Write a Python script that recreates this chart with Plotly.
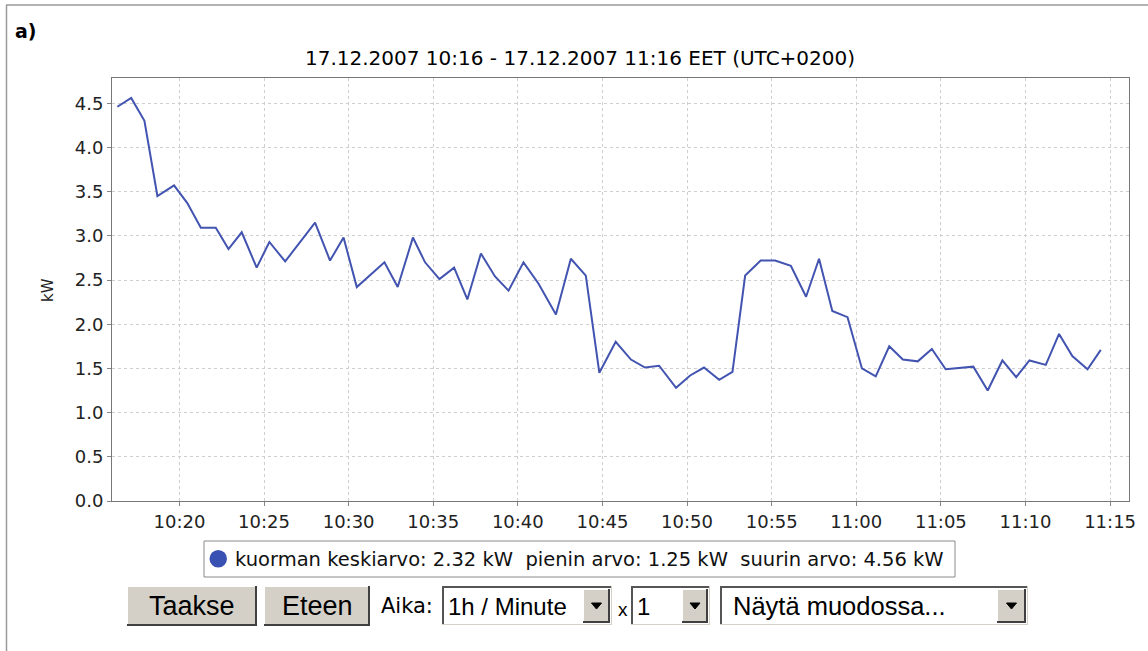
import plotly.graph_objects as go

# ---------------- data ----------------
times = ["10:16:20","10:17:09","10:17:56","10:18:42","10:19:41","10:20:28","10:21:16","10:22:09","10:22:54","10:23:41",
         "10:24:34","10:25:19","10:26:15","10:27:08","10:28:01","10:28:54","10:29:42","10:30:29","10:31:17","10:32:07",
         "10:32:54","10:33:48","10:34:31","10:35:22","10:36:14","10:37:01","10:37:49","10:38:39","10:39:27","10:40:20",
         "10:41:13","10:42:15","10:43:08","10:44:01","10:44:49","10:45:47","10:46:41","10:47:31","10:48:21","10:49:21",
         "10:50:11","10:51:00","10:51:54","10:52:41","10:53:26","10:54:21","10:55:12","10:56:08","10:57:02","10:57:48",
         "10:58:35","10:59:29","11:00:20","11:01:09","11:01:57","11:02:45","11:03:38","11:04:28","11:05:17","11:06:08",
         "11:06:55","11:07:46","11:08:38","11:09:27","11:10:14","11:11:12","11:11:59","11:12:46","11:13:40","11:14:27"]
load_kw = [4.46, 4.56, 4.30, 3.45, 3.57, 3.37, 3.09, 3.09, 2.85, 3.04,
           2.64, 2.93, 2.71, 2.93, 3.15, 2.72, 2.98, 2.42, 2.56, 2.70,
           2.42, 2.98, 2.70, 2.51, 2.64, 2.28, 2.80, 2.54, 2.38, 2.70,
           2.46, 2.11, 2.74, 2.55, 1.45, 1.80, 1.60, 1.51, 1.53, 1.28,
           1.42, 1.51, 1.37, 1.46, 2.55, 2.72, 2.72, 2.66, 2.31, 2.74,
           2.15, 2.08, 1.50, 1.41, 1.75, 1.60, 1.58, 1.72, 1.49, 1.51,
           1.52, 1.25, 1.59, 1.40, 1.59, 1.54, 1.89, 1.64, 1.49, 1.71]
date = "2007-12-17"
title_text = "17.12.2007 10:16 - 17.12.2007 11:16 EET (UTC+0200)"
legend_text = "kuorman keskiarvo: 2.32 kW  pienin arvo: 1.25 kW  suurin arvo: 4.56 kW"
y_title = "kW"
panel_label = "a)"

# ---------------- geometry ----------------
W, H = 1148, 651
L, R, T, B = 112, 1129, 78, 501

def fx(x):
    return (x - L) / (R - L)

def fy(y):
    return (B - y) / (B - T)

FONT = "DejaVu Sans"
BTN_FONT = "Liberation Sans"
LINE_BLUE = "#4254b0"

fig = go.Figure()
fig.add_trace(go.Scatter(
    x=[f"{date} {t}" for t in times], y=load_kw, mode="lines",
    line=dict(color=LINE_BLUE, width=2), showlegend=False, hoverinfo="x+y"))

grid = dict(showgrid=True, gridcolor="#cfcfcf", gridwidth=1, griddash="3px,3px")
fig.update_xaxes(
    range=[f"{date} 10:16:01", f"{date} 11:16:07"], type="date",
    tickformat="%H:%M", dtick=5 * 60 * 1000, tick0=f"{date} 10:20:00",
    ticks="outside", ticklen=4, tickcolor="#888888",
    showline=True, linecolor="#777777", linewidth=1, mirror=True,
    tickfont=dict(family=FONT, size=18, color="#222222"), zeroline=False, **grid)
fig.update_yaxes(
    range=[0, 4.785], dtick=0.5, tick0=0, tickformat=".1f",
    ticks="outside", ticklen=4, tickcolor="#888888",
    showline=True, linecolor="#777777", linewidth=1, mirror=True,
    tickfont=dict(family=FONT, size=18, color="#222222"), zeroline=False, **grid)

shapes = []
annos = []

def rect(x0, y0, x1, y1, fill, line_color=None, lw=0):
    shapes.append(dict(type="rect", xref="paper", yref="paper",
                       x0=fx(x0), x1=fx(x1), y0=fy(y1), y1=fy(y0),
                       fillcolor=fill, line=dict(color=line_color or fill, width=lw), layer="above"))

def line(x0, y0, x1, y1, color, w=1):
    shapes.append(dict(type="line", xref="paper", yref="paper",
                       x0=fx(x0), x1=fx(x1), y0=fy(y0), y1=fy(y1),
                       line=dict(color=color, width=w), layer="above"))

def text(x, y, s, size, family=FONT, xanchor="center", color="#000000", bold=False):
    annos.append(dict(xref="paper", yref="paper", x=fx(x), y=fy(y), text=f"<b>{s}</b>" if bold else s,
                      showarrow=False, xanchor=xanchor, yanchor="middle",
                      font=dict(family=family, size=size, color=color)))

def tri(cx, cy):
    pts = [(cx - 5, cy - 3), (cx + 5, cy - 3), (cx, cy + 3)]
    path = "M " + " L ".join(f"{fx(px)},{fy(py)}" for px, py in pts) + " Z"
    shapes.append(dict(type="path", xref="paper", yref="paper", path=path,
                       fillcolor="#000000", line=dict(color="#000000", width=1), layer="above"))

# outer frame (top & left)
line(6, 5, 1148, 5, "#9a9a9a", 1.5)
line(6.5, 5, 6.5, 651, "#9a9a9a", 1.5)

# panel label, title, y title
text(13, 31, panel_label, 19, family=FONT, xanchor="left", bold=True)
text(580, 58, title_text, 20)
annos.append(dict(xref="paper", yref="paper", x=fx(48), y=fy(290), text=y_title, showarrow=False,
                  textangle=-90, xanchor="center", yanchor="middle",
                  font=dict(family=FONT, size=15, color="#222222")))

# legend box
rect(204, 541, 955, 577, "#ffffff", "#8a8a8a", 1)
shapes.append(dict(type="circle", xref="paper", yref="paper",
                   x0=fx(209.5), x1=fx(227), y0=fy(567.5), y1=fy(550),
                   fillcolor="#3a51b4", line=dict(color="#3a51b4", width=0), layer="above"))
text(233, 559, legend_text, 19.5, xanchor="left", color="#111111")

# buttons
def button(x0, x1, label):
    y0, y1 = 586, 626
    rect(x0, y0, x1, y1, "#d4d0c8")
    line(x0, y0 + 0.5, x1, y0 + 0.5, "#ffffff", 1)
    line(x0 + 0.5, y0, x0 + 0.5, y1, "#ffffff", 1)
    line(x0, y1 - 1, x1, y1 - 1, "#404040", 2)
    line(x1 - 1, y0, x1 - 1, y1, "#404040", 2)
    text((x0 + x1) / 2, 606, label, 27, family=BTN_FONT)

button(127, 257, "Taakse")
button(264, 370, "Eteen")
text(379, 606, "Aika:", 21, xanchor="left")

def combo(x0, x1, ax0, label, tx, size):
    y0, y1 = 586, 625
    rect(x0, y0, x1, y1, "#ffffff")
    line(x0, y0 + 1, x1, y0 + 1, "#555555", 2)
    line(x0 + 1, y0, x0 + 1, y1, "#555555", 2)
    line(x0, y1 - 0.5, x1, y1 - 0.5, "#d4d0c8", 1)
    line(x1 - 0.5, y0, x1 - 0.5, y1, "#d4d0c8", 1)
    # arrow button
    bx0, bx1, by0, by1 = ax0, x1 - 2, y0 + 3, y1 - 2
    rect(bx0, by0, bx1, by1, "#d4d0c8")
    line(bx0, by0 + 0.5, bx1, by0 + 0.5, "#ffffff", 1)
    line(bx0 + 0.5, by0, bx0 + 0.5, by1, "#ffffff", 1)
    line(bx0, by1 - 1, bx1, by1 - 1, "#404040", 2)
    line(bx1 - 1, by0, bx1 - 1, by1, "#404040", 2)
    tri((bx0 + bx1) / 2, (by0 + by1) / 2)
    text(tx, 606, label, size, family=BTN_FONT, xanchor="left")

combo(442, 612, 583, "1h / Minute", 446, 24)
text(616, 609, "x", 19, family=BTN_FONT, xanchor="left")
combo(631, 710, 682, "1", 635, 24)
combo(720, 1028, 997, "Näytä muodossa...", 731, 25.5)

fig.update_layout(
    width=W, height=H, autosize=False,
    margin=dict(l=L, r=W - R, t=T, b=H - B, pad=0),
    paper_bgcolor="#ffffff", plot_bgcolor="#ffffff",
    shapes=shapes, annotations=annos, showlegend=False,
    font=dict(family=FONT, size=16, color="#222222"),
)
fig.write_html("out.html", config={"displayModeBar": False},
               post_script="document.body.style.margin='0px';document.body.style.overflow='hidden';")
